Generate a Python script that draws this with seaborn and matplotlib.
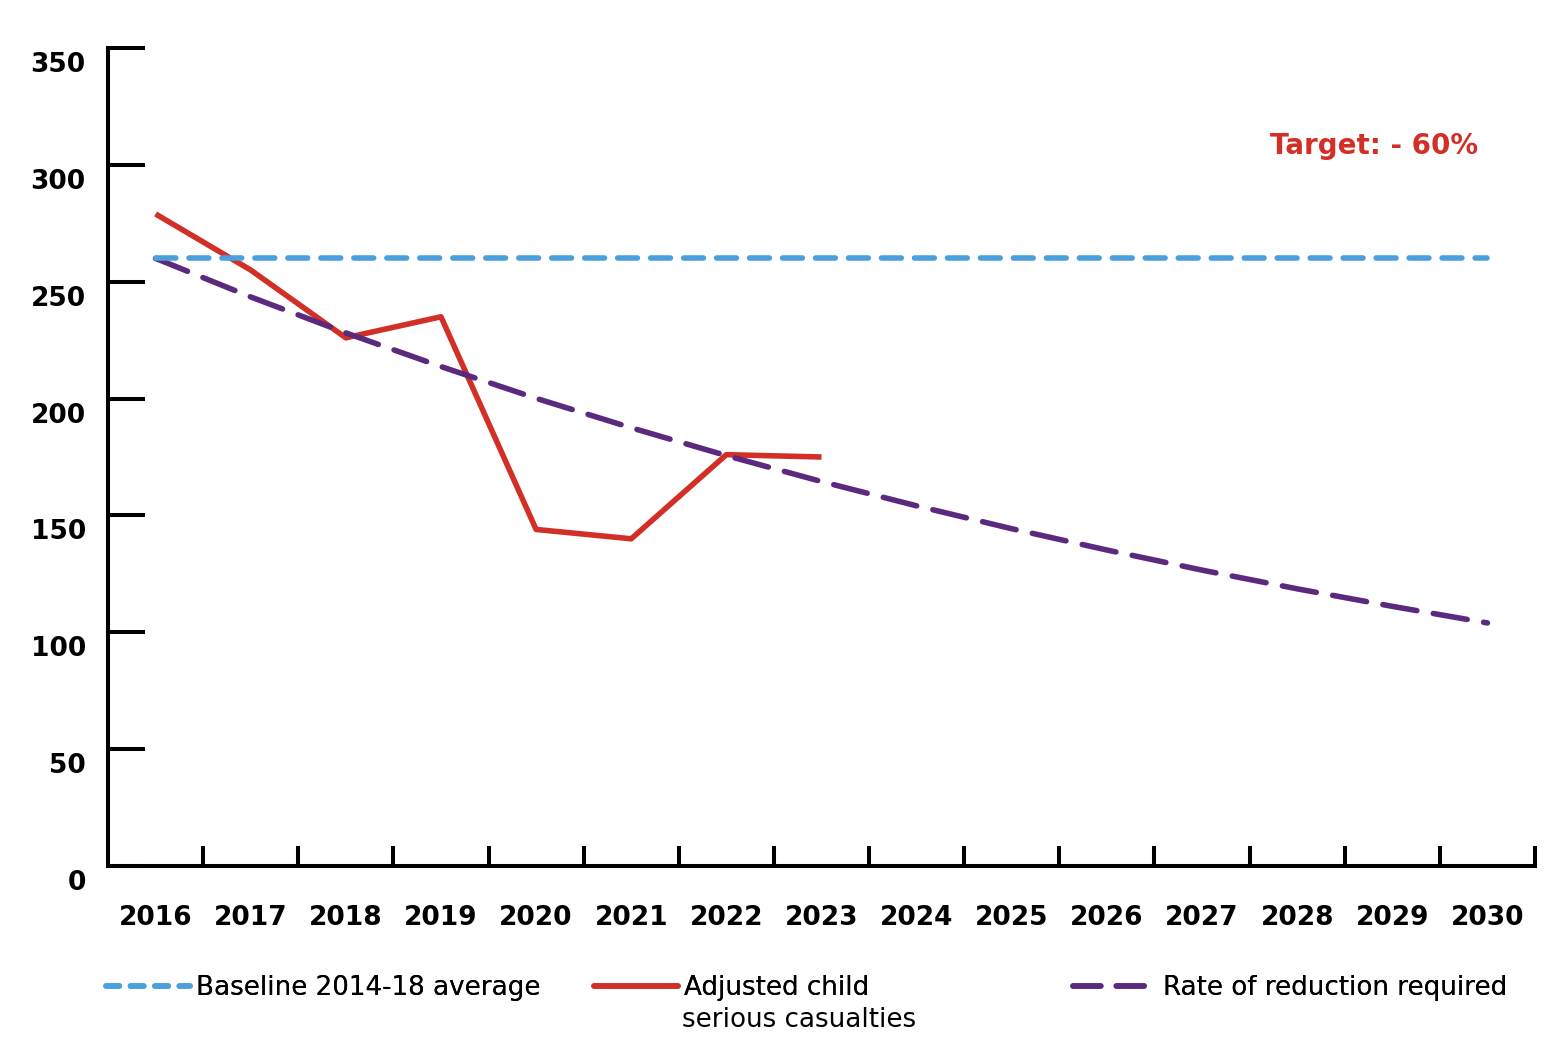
import matplotlib.pyplot as plt
import matplotlib.transforms as mtransforms
from matplotlib.lines import Line2D
import seaborn as sns

sns.set_theme(style="white")
plt.rcParams["font.family"] = ["DejaVu Sans"]
plt.rcParams["text.color"] = "black"

years = ["2016", "2017", "2018", "2019", "2020", "2021", "2022", "2023",
         "2024", "2025", "2026", "2027", "2028", "2029", "2030"]
baseline = [260] * 15
adjusted = [279, 255, 226, 235, 144, 140, 176, 175]
reduction = [260, 243.5, 228.1, 213.7, 200.1, 187.5, 175.6, 164.5,
             154.1, 144.3, 135.2, 126.6, 118.6, 111.1, 104.0]
y_ticks = [0, 50, 100, 150, 200, 250, 300, 350]

BLUE = "#4A9FDD"
RED = "#D22F27"
PURPLE = "#5B2A7E"
BLUE_DASH = (0, (3.56, 2.376))
PURPLE_DASH = (0, (6.2, 3.0))
LW = 4.0


def main():
    fig = plt.figure(figsize=(15.6, 10.52), dpi=100)
    ax = fig.add_axes([108 / 1560, 1 - 866 / 1052, 1427 / 1560, 818 / 1052])

    pos = list(range(len(years)))
    sns.lineplot(x=pos[:len(adjusted)], y=adjusted, color=RED, lw=LW,
                 solid_capstyle="butt", ax=ax, zorder=3)
    sns.lineplot(x=pos, y=reduction, color=PURPLE, lw=LW, linestyle=PURPLE_DASH,
                 dash_capstyle="round", ax=ax, zorder=4)
    sns.lineplot(x=pos, y=baseline, color=BLUE, lw=LW, linestyle=BLUE_DASH,
                 dash_capstyle="round", ax=ax, zorder=5)

    ax.set_xlim(-0.5, 14.5)
    ax.set_ylim(0, 350)

    for s in ["top", "right"]:
        ax.spines[s].set_visible(False)
    for s in ["left", "bottom"]:
        ax.spines[s].set_linewidth(2.9)
        ax.spines[s].set_color("black")

    ax.set_yticks(y_ticks)
    ax.set_yticklabels([str(v) for v in y_ticks], fontsize=19, fontweight="bold")
    ax.tick_params(axis="y", direction="in", length=26.6, width=2.9, pad=16,
                   colors="black", left=True)
    offset = mtransforms.ScaledTranslation(0, -14 / 100, fig.dpi_scale_trans)
    for lab in ax.get_yticklabels():
        lab.set_transform(lab.get_transform() + offset)

    ax.set_xticks(pos)
    ax.set_xticklabels(years, fontsize=19, fontweight="bold")
    ax.set_xticks([p + 0.5 for p in pos], minor=True)
    ax.tick_params(axis="x", which="major", length=0, pad=28, colors="black")
    ax.tick_params(axis="x", which="minor", direction="in", length=14.4,
                   width=2.9, color="black", bottom=True)

    ax.set_xlabel("")
    ax.set_ylabel("")
    ax.grid(False)

    ax.text(13.9, 308, "Target: - 60%", color=RED, fontsize=20,
            fontweight="bold", ha="right", va="center")

    # legend entries placed individually along the bottom
    entries = [
        (Line2D([], [], color=BLUE, lw=LW, linestyle=(0, (2.4, 2.0)),
                dash_capstyle="round"), "Baseline 2014-18 average", 106),
        (Line2D([], [], color=RED, lw=LW), "Adjusted child", 594),
        (Line2D([], [], color=PURPLE, lw=LW, linestyle=(0, (5.0, 2.8)),
                dash_capstyle="round"), "Rate of reduction required", 1073),
    ]
    for handle, label, x in entries:
        leg = fig.legend([handle], [label], loc="center left",
                         bbox_to_anchor=(x / 1560, 1 - 988 / 1052),
                         frameon=False, fontsize=18.8, handlelength=3.2,
                         handletextpad=0.25, borderaxespad=0, borderpad=0,
                         labelspacing=0)
        for t in leg.get_texts():
            t.set_color("black")
        fig.add_artist(leg)
    fig.text(682 / 1560, 1 - 1020 / 1052, "serious casualties", fontsize=18.8,
             color="black", ha="left", va="center")

    fig.savefig("out.png", dpi=100)


if __name__ == "__main__":
    main()
